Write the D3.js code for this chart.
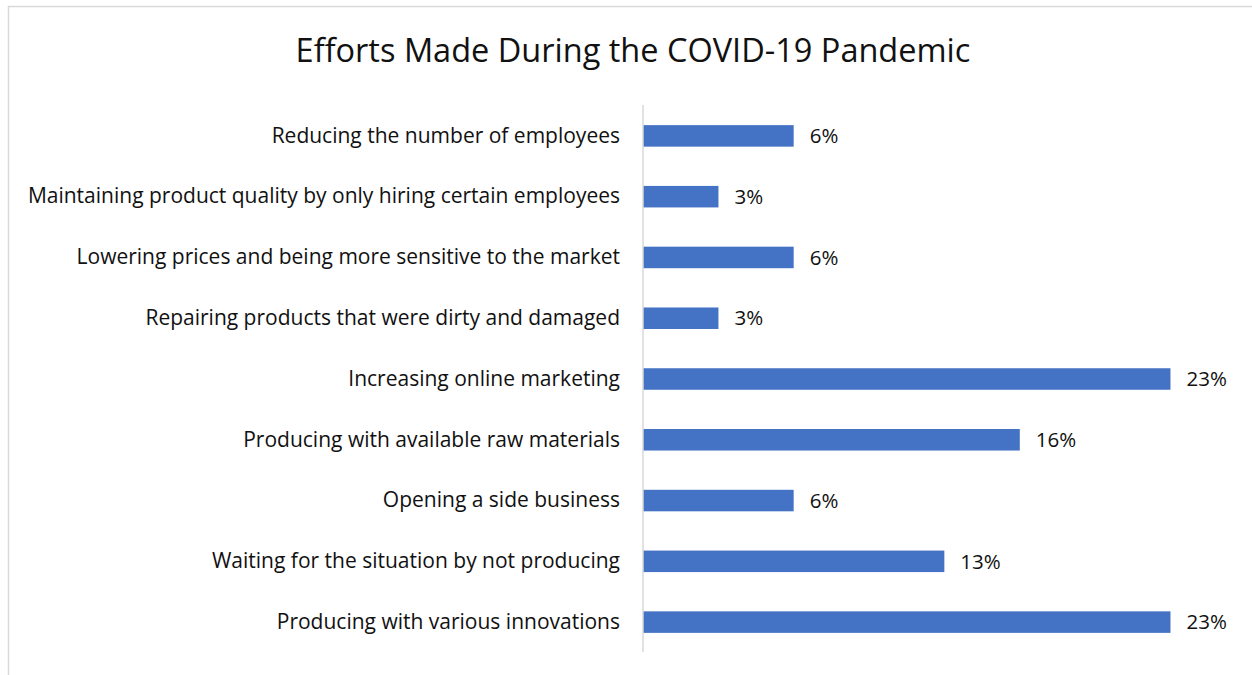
<!DOCTYPE html>
<html>
<head>
<meta charset="utf-8">
<script src="https://cdn.jsdelivr.net/npm/d3@7"></script>
<style>
  body { margin: 0; background: #fff; }
  svg { display: block; font-family: "Open Sans", sans-serif; }
</style>
</head>
<body>
<div id="chart"></div>
<script>
// Categories, top to bottom
const categories = [
    "Reducing the number of employees",
    "Maintaining product quality by only hiring certain employees",
    "Lowering prices and being more sensitive to the market",
    "Repairing products that were dirty and damaged",
    "Increasing online marketing",
    "Producing with available raw materials",
    "Opening a side business",
    "Waiting for the situation by not producing",
    "Producing with various innovations"
];
// Shares in percent (bar lengths), shown rounded
const values = [6.45, 3.23, 6.45, 3.23, 22.58, 16.13, 6.45, 12.9, 22.58];
const labels = ["6%", "3%", "6%", "3%", "23%", "16%", "6%", "13%", "23%"];
const title = "Efforts Made During the COVID-19 Pandemic";

const width = 1252, height = 675;
const data = categories.map((c, i) => ({name: c, value: values[i], label: labels[i]}));

const svg = d3.select("#chart").append("svg")
    .attr("width", width)
    .attr("height", height);

// chart area border (runs off the right and bottom edges)
svg.append("rect")
    .attr("x", 8.5)
    .attr("y", 6.5)
    .attr("width", 1260)
    .attr("height", 700)
    .attr("fill", "#fff")
    .attr("stroke", "#d9d9d9")
    .attr("stroke-width", 1.5);

svg.append("text")
    .attr("x", 633)
    .attr("y", 62)
    .attr("text-anchor", "middle")
    .attr("font-size", 32.5)
    .attr("fill", "#111")
    .text(title);

// Scales
const x = d3.scaleLinear()
    .domain([0, 25])
    .range([643, 1227]);
const y = d3.scaleBand()
    .domain(categories)
    .range([105.5, 652.5])
    .paddingInner(0.646)
    .paddingOuter(0.323);

// Bars
svg.selectAll(".bar")
    .data(data)
    .enter().append("rect")
    .attr("class", "bar")
    .attr("x", x(0))
    .attr("y", d => y(d.name))
    .attr("width", d => x(d.value) - x(0))
    .attr("height", y.bandwidth())
    .attr("fill", "#4472c4");

// Category axis
const yAxis = d3.axisLeft(y).tickSize(0).tickPadding(23);
const yAxisGroup = svg.append("g")
    .attr("transform", "translate(" + x(0) + ",0)")
    .call(yAxis);
yAxisGroup.select(".domain")
    .attr("stroke", "#d9d9d9")
    .attr("stroke-width", 1.5)
    .attr("d", "M0," + 105 + "V" + 652);
yAxisGroup.selectAll(".tick text")
    .attr("font-family", "Open Sans, sans-serif")
    .attr("font-size", 21)
    .attr("fill", "#111");

// Value labels
svg.selectAll(".value-label")
    .data(data)
    .enter().append("text")
    .attr("class", "value-label")
    .attr("x", d => x(d.value) + 16)
    .attr("y", d => y(d.name) + y.bandwidth() / 2)
    .attr("dy", "0.35em")
    .attr("font-size", 20.5)
    .attr("fill", "#111")
    .text(d => d.label);
</script>
</body>
</html>
